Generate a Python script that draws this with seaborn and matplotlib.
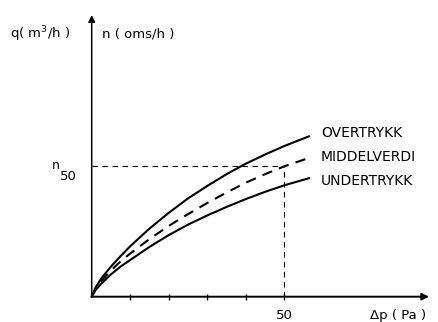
import numpy as np
import pandas as pd
import seaborn as sns
import matplotlib
matplotlib.use("Agg")
import matplotlib.pyplot as plt

sns.set_style("white")
plt.rcParams['font.family'] = ['DejaVu Sans']
plt.rcParams['text.color'] = 'black'
plt.rcParams['xtick.color'] = 'black'

# values (y scaled so that n50 = 1)
dp = [0, 1, 2.5, 5, 7.5, 10, 15, 20, 25, 30, 35, 40, 45, 50, 56.5]
overtrykk = [0, 0.07, 0.14, 0.23, 0.31, 0.385, 0.52, 0.64, 0.75, 0.845, 0.935, 1.015, 1.085, 1.15, 1.225]
middelverdi = [0, 0.06, 0.12, 0.20, 0.27, 0.33, 0.44, 0.54, 0.63, 0.715, 0.795, 0.87, 0.935, 0.995, 1.06]
undertrykk = [0, 0.05, 0.10, 0.17, 0.23, 0.28, 0.38, 0.47, 0.55, 0.62, 0.685, 0.745, 0.80, 0.85, 0.905]
series_names = ["OVERTRYKK", "MIDDELVERDI", "UNDERTRYKK"]
x_ticks = [10, 20, 30, 40, 50]
x_ticklabels = ["", "", "", "", "50"]
n50 = 1.0
dp50 = 50

df = pd.DataFrame({
    "dp": dp * 3,
    "n": overtrykk + middelverdi + undertrykk,
    "curve": [series_names[0]] * len(dp) + [series_names[1]] * len(dp) + [series_names[2]] * len(dp),
})

fig = plt.figure(figsize=(4.38, 3.22), dpi=100)
W, H = 438, 322
x0, y0 = 91.7, 296.7          # origin in pixels
xs, ys = 3.85, 131.0           # pixels per unit
right, top = 432, 10
ax = fig.add_axes([x0 / W, (H - y0) / H, (right - x0) / W, (y0 - top) / H])
ax.set_xlim(0, (right - x0) / xs)
ax.set_ylim(0, (y0 - top) / ys)

sns.lineplot(data=df, x="dp", y="n", hue="curve", style="curve",
             palette=["black"] * 3, dashes={series_names[0]: "", series_names[1]: (5, 3.5), series_names[2]: ""},
             linewidth=1.5, legend=False, ax=ax, clip_on=False)

for s in ax.spines.values():
    s.set_visible(False)

# axes as arrows
ax.annotate("", xy=(87.6, 0), xytext=(0, 0),
            arrowprops=dict(arrowstyle="-|>", lw=1.4, color="black", mutation_scale=10, shrinkA=0, shrinkB=0))
ax.annotate("", xy=(0, 2.15), xytext=(0, 0),
            arrowprops=dict(arrowstyle="-|>", lw=1.1, color="black", mutation_scale=10, shrinkA=0, shrinkB=0))

ax.set_xticks(x_ticks)
ax.set_xticklabels(x_ticklabels)
ax.tick_params(axis="x", direction="inout", length=5, width=1, pad=6, labelsize=9.5, bottom=True)
ax.set_yticks([])
ax.set_xlabel("")
ax.set_ylabel("")

# reference dashed lines
ax.plot([0, dp50], [n50, n50], color="black", lw=0.8, ls=(0, (5, 4)))
ax.plot([dp50, dp50], [0, n50], color="black", lw=0.8, ls=(0, (5, 4)))

# curve labels
ax.text(59.5, 1.25, series_names[0], fontsize=10, va="center", ha="left")
ax.text(59.5, 1.066, series_names[1], fontsize=10, va="center", ha="left")
ax.text(59.5, 0.883, series_names[2], fontsize=10, va="center", ha="left")

ax.text(-10.3, 1.0, "n", fontsize=9, va="center", ha="left", clip_on=False)
ax.text(-8.2, 0.92, "50", fontsize=9.5, va="center", ha="left", clip_on=False)

fig.text(10 / W, 1 - 34 / H, "q( m$^3$/h )", fontsize=9.5, va="center", ha="left")
fig.text(102 / W, 1 - 34 / H, "n ( oms/h )", fontsize=9.5, va="center", ha="left")
fig.text(370 / W, 1 - 316 / H, "Δp ( Pa )", fontsize=9.5, va="center", ha="left")

fig.savefig("out.png", dpi=100)
